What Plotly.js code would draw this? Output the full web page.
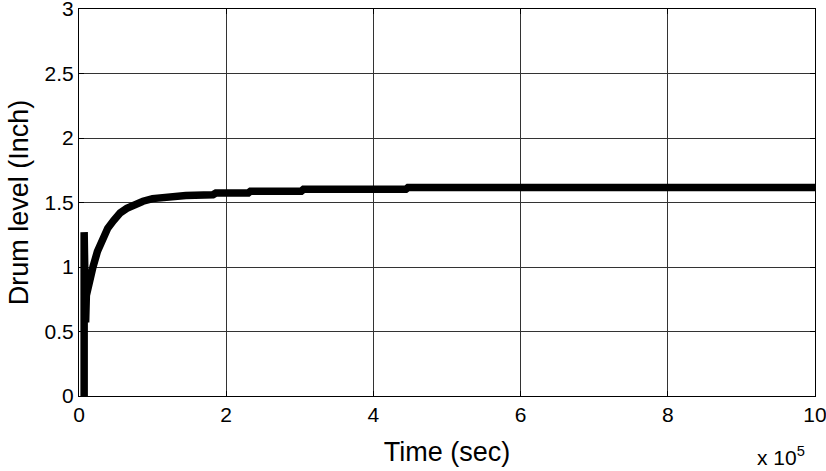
<!DOCTYPE html>
<html>
<head>
<meta charset="utf-8">
<script src="https://cdn.plot.ly/plotly-3.0.1.min.js"></script>
<style>
  html, body { margin: 0; padding: 0; background: #fff; }
  #plot { width: 826px; height: 471px; }
</style>
</head>
<body>
<div id="plot"></div>
<script>
// time in units of 1e5 sec, level in inches
var timeVals = [0.07, 0.07, 0.08, 0.09, 0.1, 0.12, 0.15, 0.19, 0.25, 0.31, 0.39, 0.47, 0.56, 0.65, 0.76, 0.87, 1.0, 1.19, 1.45, 1.82, 1.86, 2.3, 2.33, 3.02, 3.05, 4.44, 4.47, 6.0, 8.0, 10.0];
var levelVals = [0.0, 1.27, 0.4, 0.57, 0.78, 0.84, 0.92, 1.0, 1.12, 1.21, 1.3, 1.36, 1.42, 1.455, 1.49, 1.51, 1.53, 1.545, 1.555, 1.56, 1.574, 1.574, 1.588, 1.588, 1.602, 1.602, 1.616, 1.616, 1.616, 1.616];

var xTicks = [0, 2, 4, 6, 8, 10];
var yTicks = [0, 0.5, 1, 1.5, 2, 2.5, 3];

var fontFam = 'Liberation Sans, Arial, sans-serif';

var trace = {
  x: timeVals,
  y: levelVals,
  mode: 'lines',
  line: { color: '#000', width: 7.5 },
  hoverinfo: 'skip',
  cliponaxis: false
};

var axisBase = {
  showline: true,
  linecolor: '#000',
  linewidth: 1,
  mirror: 'ticks',
  ticks: 'inside',
  ticklen: 5,
  tickcolor: '#000',
  showgrid: true,
  gridcolor: '#333',
  gridwidth: 1,
  zeroline: false,
  ticklabeloverflow: 'allow',
  tickfont: { family: fontFam, size: 21, color: '#000' }
};

var layout = {
  width: 826,
  height: 471,
  margin: { l: 79, r: 11, t: 9, b: 75 },
  paper_bgcolor: '#fff',
  plot_bgcolor: '#fff',
  showlegend: false,
  xaxis: Object.assign({}, axisBase, {
    range: [0, 10],
    tickvals: xTicks,
    ticktext: xTicks.map(String),
    title: { text: 'Time (sec)', font: { family: fontFam, size: 27, color: '#000' }, standoff: 16 }
  }),
  yaxis: Object.assign({}, axisBase, {
    range: [0, 3],
    tickvals: yTicks,
    ticktext: yTicks.map(String),
    title: { text: 'Drum level (Inch)', font: { family: fontFam, size: 27, color: '#000' }, standoff: 8 }
  }),
  annotations: [{
    xref: 'paper', yref: 'paper',
    x: 1, y: 0, xanchor: 'right', yanchor: 'top', yshift: -45, xshift: -8,
    text: 'x 10<sup>5</sup>',
    showarrow: false,
    font: { family: fontFam, size: 21, color: '#000' }
  }]
};

Plotly.newPlot('plot', [trace], layout, { displayModeBar: false, staticPlot: true });
</script>
</body>
</html>
